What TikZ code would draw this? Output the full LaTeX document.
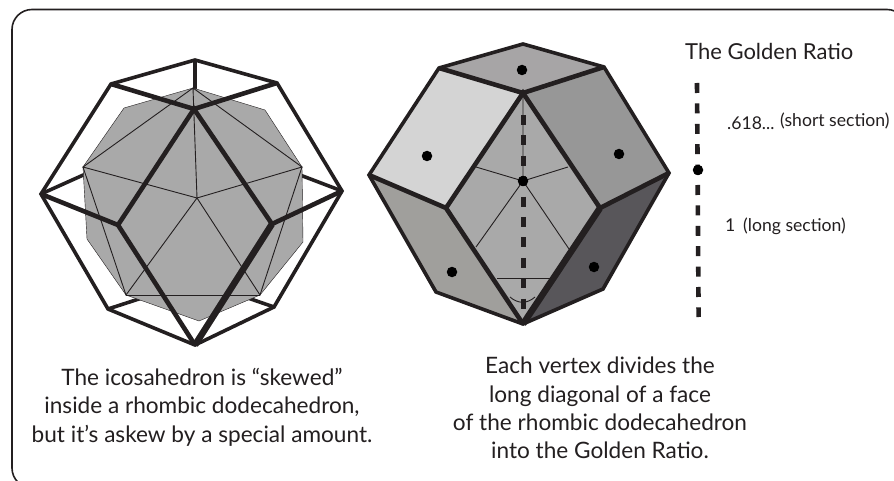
\documentclass[tikz,border=0pt]{standalone}
\usepackage{fontspec}
\setmainfont{Lato}
\usetikzlibrary{calc,positioning}
\definecolor{solidInk}{HTML}{231F20}
\definecolor{solidGray}{HTML}{A9A9A9}
\definecolor{faceTop}{HTML}{A7A5A6}
\definecolor{faceLeft}{HTML}{D4D4D4}
\definecolor{faceRight}{HTML}{979797}
\definecolor{faceLow}{HTML}{A09F9C}
\definecolor{faceDark}{HTML}{58565A}

\begin{document}
\begin{tikzpicture}[x=1pt,y=-1pt,line cap=butt,line join=miter]
\useasboundingbox (0,0) rectangle (894,481);
\path[fill=white] (0,0) rectangle (894,481);
\tikzset{edge/.style={draw=solidInk,line width=3.6pt},heavy/.style={draw=solidInk,line width=4.6pt},fine/.style={draw=solidInk,line width=.9pt},
  spot/.style={circle,fill=black,inner sep=0pt,minimum size=10.5pt},dashline/.style={draw=solidInk,line width=4.6pt,dash pattern=on 10pt off 10.4pt},
  caption/.style={align=center,font=\fontsize{22.6}{28.3}\selectfont,text=solidInk},note/.style={anchor=base west,text=solidInk,inner sep=0pt,font=\fontsize{17.6}{20}\selectfont}}
% outer frame
\draw[solidInk,line width=1.6pt,rounded corners=20pt] (12,9.5) -- (907,9.5) -- (907,488) -- (12,488) -- cycle;
% icosahedron in the hull
\draw[edge] (195,60) -- (195,100);
\draw[edge] (41,194) -- (90,172);
\draw[edge] (342,191) -- (300,175);
\draw[edge] (108,309) -- (145,297);
\draw[edge] (274,307) -- (245,297);
\path[fill=solidGray,draw=solidInk,line width=.4pt] (193,88) -- (265,110) -- (302,167) -- (303,242) -- (260,295) -- (199,321) -- (126,295) -- (87,239) -- (83,167) -- (124,108) -- cycle;
\draw[fine] (193,88) -- (197,198) -- (83,167) -- (193,88) -- (302,167) -- (197,198) -- (126,295) -- (83,167);
\draw[fine] (197,198) -- (260,295) -- (302,167);
\draw[fine] (126,295) -- (260,295);
\draw[edge] (195,60) -- (111,84) -- (41,194) -- (108,309) -- (195,345) -- (274,307) -- (342,191) -- (277,83) -- cycle;
\draw[heavy] (111,84) -- (194,109) -- (277,83);
\draw[heavy] (118,225) -- (194,109) -- (272,224);
\draw[heavy] (41,194) -- (118,225) -- (195,345);
\draw[heavy] (342,191) -- (272,224);
\draw[line width=6.5pt,solidInk] (272,224) -- (195,345);
% rhombic faces
\path[fill=solidGray] (523,93) -- (446,208) -- (523,324) -- (600,208) -- cycle;
\path[fill=faceTop] (523,44) -- (439,68) -- (523,93) -- (604,67) -- cycle;
\path[fill=faceLeft] (439,68) -- (369,175) -- (446,208) -- (523,93) -- cycle;
\path[fill=faceRight] (604,67) -- (669,173) -- (600,208) -- (523,93) -- cycle;
\path[fill=faceLow] (369,175) -- (436,292) -- (523,324) -- (446,208) -- cycle;
\path[fill=faceDark] (669,173) -- (603,289) -- (523,324) -- (600,208) -- cycle;
\draw[fine] (523,93) -- (523,181) -- (476,167);
\draw[fine] (523,181) -- (568,167);
\draw[fine] (476,247) -- (523,181) -- (569,249);
\draw[fine] (497,278) -- (550,278);
\draw[fine] (510,297) .. controls (518,304) and (527,304) .. (535,297);
\draw[dashline] (523.3,115) -- (523.3,310);
\draw[edge] (523,44) -- (439,68) -- (369,175) -- (436,292) -- (523,324) -- (603,289) -- (669,173) -- (604,67) -- cycle;
\draw[heavy] (439,68) -- (523,93) -- (604,67);
\draw[heavy] (446,208) -- (523,93) -- (600,208);
\draw[heavy] (369,175) -- (446,208) -- (523,324);
\draw[heavy] (669,173) -- (600,208);
\draw[line width=6.5pt,solidInk] (600,208) -- (523,324);
\node[spot] (dotTop) at (522,70) {};
\node[spot] (dotLeft) at (427,156) {};
\node[spot] (dotRight) at (619,154) {};
\node[spot] (dotLow) at (452,272) {};
\node[spot] (dotDark) at (594,267) {};
\node[spot] (dotMid) at (523,181) {};
% golden ratio scale
\draw[dashline] (697,83) -- (698.6,317);
\node[spot] (dotScale) at (698,170) {};
\node[note,font=\fontsize{22}{26}\selectfont] (ratioTitle) at (685,60) {The Golden Ratio};
\node[note] (shortVal) at (727,130) {.618...};
\node[note] (shortName) at (780,127) {(short section)};
\node[note] (longVal) at (725,231) {1};
\node[note] (longName) at (743,231) {(long section)};
\node[caption] (leftText) at (202,407) {The icosahedron is “skewed”\\inside a rhombic dodecahedron,\\but it’s askew by a special amount.};
\node[caption] (rightText) at (600,408) {Each vertex divides the\\long diagonal of a face\\of the rhombic dodecahedron\\into the Golden Ratio.};
\end{tikzpicture}
\end{document}
